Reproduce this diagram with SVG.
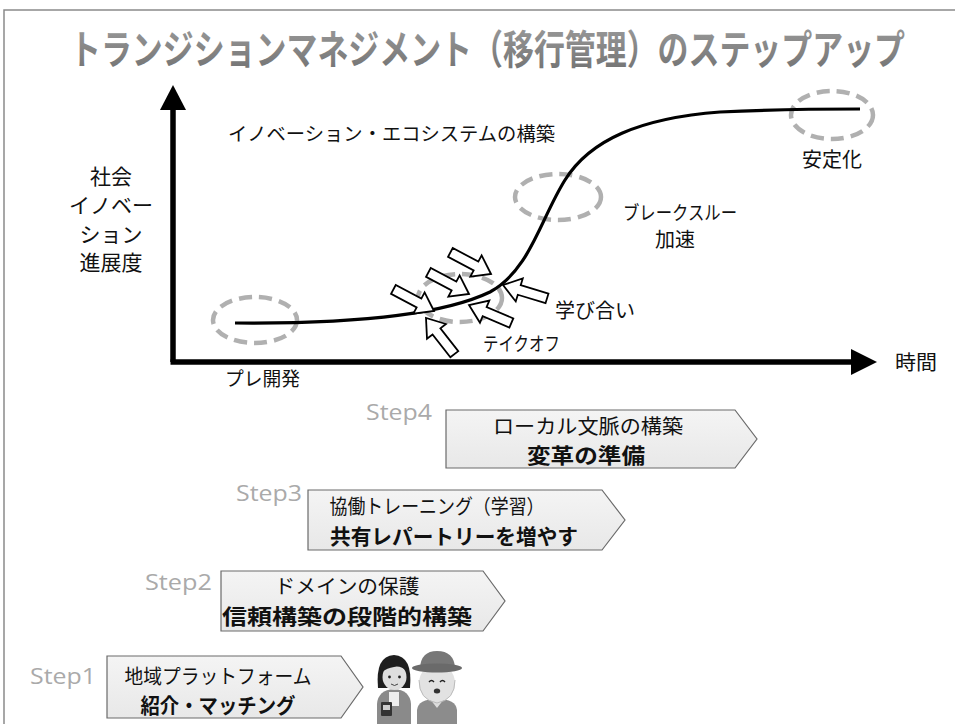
<svg xmlns="http://www.w3.org/2000/svg" width="955" height="724" viewBox="0 0 955 724">
  <style>
    .jp { font-family: "Noto Sans CJK JP", "Noto Sans", sans-serif; fill: #111; }
    .step { font-family: "Open Sans", "Noto Sans", sans-serif; font-size: 22px; fill: #aaa; }
    .box { fill: url(#boxfill); stroke: #6a6a6a; stroke-width: 1.2; }
    .btxt { font-family: "Noto Sans CJK JP", sans-serif; fill: #111; text-anchor: middle; }
    .bbold { font-weight: bold; }
    .ring { fill: none; stroke: #b0b0b0; stroke-width: 4.5; stroke-dasharray: 13 7; }
    .axis { stroke: #000; stroke-width: 5.5; fill: none; }
  </style>
  <defs>
    <linearGradient id="boxfill" x1="0" y1="0" x2="0" y2="1">
      <stop offset="0" stop-color="#f4f4f4"/>
      <stop offset="1" stop-color="#e8e8e8"/>
    </linearGradient>
    <linearGradient id="titlefill" x1="0" y1="0" x2="0" y2="1">
      <stop offset="0" stop-color="#a0a0a0"/>
      <stop offset="1" stop-color="#707070"/>
    </linearGradient>
    <!-- hollow block arrow, tip at the origin, pointing along +x -->
    <polygon id="blockArrow" points="0,0 -17,-12 -17,-5 -46,-5 -46,5 -17,5 -17,12" fill="#fff" stroke="#000" stroke-width="1.8" stroke-linejoin="miter"/>
  </defs>

  <rect width="955" height="724" fill="#fff"/>
  <!-- frame -->
  <path d="M4,724 V10 H955" fill="none" stroke="#8a8a8a" stroke-width="1.5"/>

  <!-- title: condensed heading, stretched vertically -->
  <g id="title">
    <text transform="translate(70,64) scale(1,1.3)" x="0" y="0" font-family="'Noto Sans CJK JP', sans-serif" font-weight="bold" font-size="31" fill="url(#titlefill)" textLength="835" lengthAdjust="spacingAndGlyphs">トランジションマネジメント（移行管理）のステップアップ</text>
  </g>

  <!-- axes -->
  <g id="axes">
    <path class="axis" d="M173,362 V105"/>
    <polygon points="173,85 160,110 186,110" fill="#000"/>
    <path class="axis" d="M170.5,362 H855"/>
    <polygon points="877,362 851,349 851,375" fill="#000"/>
    <text class="jp" x="111" y="184" text-anchor="middle" font-size="21">社会</text>
    <text class="jp" x="111" y="213" text-anchor="middle" font-size="21">イノベー</text>
    <text class="jp" x="111" y="242" text-anchor="middle" font-size="21">ション</text>
    <text class="jp" x="111" y="270" text-anchor="middle" font-size="21">進展度</text>
    <text class="jp" x="895" y="370" font-size="20" textLength="42" lengthAdjust="spacingAndGlyphs">時間</text>
  </g>

  <!-- phase markers -->
  <g id="phase-pre">
    <ellipse class="ring" cx="255" cy="320" rx="42" ry="23"/>
    <text class="jp" x="225" y="386" font-size="19" textLength="75" lengthAdjust="spacingAndGlyphs">プレ開発</text>
  </g>
  <g id="phase-takeoff">
    <ellipse class="ring" cx="460" cy="298" rx="42" ry="24"/>
    <text class="jp" x="483" y="351" font-size="19" textLength="77" lengthAdjust="spacingAndGlyphs">テイクオフ</text>
  </g>
  <g id="phase-breakthrough">
    <ellipse class="ring" cx="558" cy="197" rx="43" ry="23"/>
    <text class="jp" x="623" y="220" font-size="19" textLength="114" lengthAdjust="spacingAndGlyphs">ブレークスルー</text>
    <text class="jp" x="655" y="247" font-size="20">加速</text>
  </g>
  <g id="phase-stable">
    <ellipse class="ring" cx="832" cy="115" rx="41" ry="24"/>
    <text class="jp" x="802" y="167" font-size="20">安定化</text>
  </g>

  <!-- diffusion curve -->
  <g id="connectors">
    <path d="M235,323 C350,324 440,316 490,292 C530,270 540,220 565,180 C590,140 640,118 720,112 C780,109 830,109 860,109" fill="none" stroke="#000" stroke-width="3.2"/>
    <use href="#blockArrow" transform="translate(491,274) rotate(28)"/>
    <use href="#blockArrow" transform="translate(469,294) rotate(28)"/>
    <use href="#blockArrow" transform="translate(434,311) rotate(28)"/>
    <use href="#blockArrow" transform="translate(503,285) rotate(197)"/>
    <use href="#blockArrow" transform="translate(469,305) rotate(203)"/>
    <use href="#blockArrow" transform="translate(426,318) rotate(232)"/>
  </g>

  <g id="labels">
    <text class="jp" x="228" y="141" font-size="19" textLength="327" lengthAdjust="spacingAndGlyphs">イノベーション・エコシステムの構築</text>
    <text class="jp" x="555" y="318" font-size="20">学び合い</text>
  </g>

  <!-- steps -->
  <g id="step4">
    <text class="step" x="366" y="420" textLength="66" lengthAdjust="spacingAndGlyphs">Step4</text>
    <polygon class="box" points="446,410 735,410 757,439 735,468 446,468"/>
    <text class="btxt" x="588" y="434" style="font-size:20px" textLength="190" lengthAdjust="spacingAndGlyphs">ローカル文脈の構築</text>
    <text class="btxt bbold" x="586" y="463" style="font-size:21px" textLength="118" lengthAdjust="spacingAndGlyphs">変革の準備</text>
  </g>
  <g id="step3">
    <text class="step" x="236" y="501" textLength="66" lengthAdjust="spacingAndGlyphs">Step3</text>
    <polygon class="box" points="308,490 602,490 625,520 602,550 308,550"/>
    <text class="btxt" x="437" y="514" style="font-size:20px" textLength="215" lengthAdjust="spacingAndGlyphs">協働トレーニング（学習）</text>
    <text class="btxt bbold" x="454" y="544" style="font-size:21px" textLength="248" lengthAdjust="spacingAndGlyphs">共有レパートリーを増やす</text>
  </g>
  <g id="step2">
    <text class="step" x="145" y="590" textLength="67" lengthAdjust="spacingAndGlyphs">Step2</text>
    <polygon class="box" points="221,571 483,571 505,601 483,631 221,631"/>
    <text class="btxt" x="347" y="594" style="font-size:20px" textLength="145" lengthAdjust="spacingAndGlyphs">ドメインの保護</text>
    <text class="btxt bbold" x="347" y="624" style="font-size:21px" textLength="250" lengthAdjust="spacingAndGlyphs">信頼構築の段階的構築</text>
  </g>
  <g id="step1">
    <text class="step" x="30" y="684" textLength="66" lengthAdjust="spacingAndGlyphs">Step1</text>
    <polygon class="box" points="107,656 341,656 363,687 341,718 107,718"/>
    <text class="btxt" x="218" y="684" style="font-size:20px" textLength="187" lengthAdjust="spacingAndGlyphs">地域プラットフォーム</text>
    <text class="btxt bbold" x="218" y="713" style="font-size:21px" textLength="155" lengthAdjust="spacingAndGlyphs">紹介・マッチング</text>
  </g>

  <!-- two residents -->
  <g id="people">
    <!-- woman -->
    <path d="M377,724 V704 Q378,690 394,689 Q410,690 411,704 V724 Z" fill="#8a8a8a"/>
    <rect x="389" y="692" width="10" height="14" fill="#eee"/>
    <rect x="381" y="702" width="11" height="14" rx="1" fill="#333"/>
    <rect x="383" y="705" width="7" height="5" fill="#ccc"/>
    <path d="M378,688 Q375,656 394,655 Q413,656 410,688 Z" fill="#1e1e1e"/>
    <ellipse cx="394.5" cy="677" rx="12" ry="13" fill="#dedede"/>
    <path d="M382,672 Q384,659 395,659 Q406,659 408,672 Q400,665 394,667 Q387,668 382,672 Z" fill="#1e1e1e"/>
    <circle cx="389.5" cy="677" r="1.4" fill="#222"/>
    <circle cx="399.5" cy="677" r="1.4" fill="#222"/>
    <path d="M391,684 Q394.5,687 398,684" fill="none" stroke="#444" stroke-width="1"/>
    <!-- man with hat -->
    <path d="M417,724 V710 Q418,699 437,699 Q456,699 457,710 V724 Z" fill="#8c8c8c"/>
    <path d="M430,699 L437,708 L444,699 Z" fill="#ddd"/>
    <ellipse cx="437" cy="683" rx="18" ry="19" fill="#e2e2e2"/>
    <path d="M419,680 Q419,700 437,703 Q455,700 455,680" fill="none" stroke="#bbb" stroke-width="1"/>
    <path d="M420,668 Q421,651 437,651 Q454,651 455,668 Z" fill="#777"/>
    <ellipse cx="437" cy="668" rx="25" ry="4.5" fill="#6a6a6a"/>
    <path d="M429,682 q2.5,-3 5,0 M440,682 q2.5,-3 5,0" fill="none" stroke="#222" stroke-width="1.4"/>
    <ellipse cx="437" cy="691" rx="3.2" ry="2.5" fill="#333"/>
  </g>
</svg>
